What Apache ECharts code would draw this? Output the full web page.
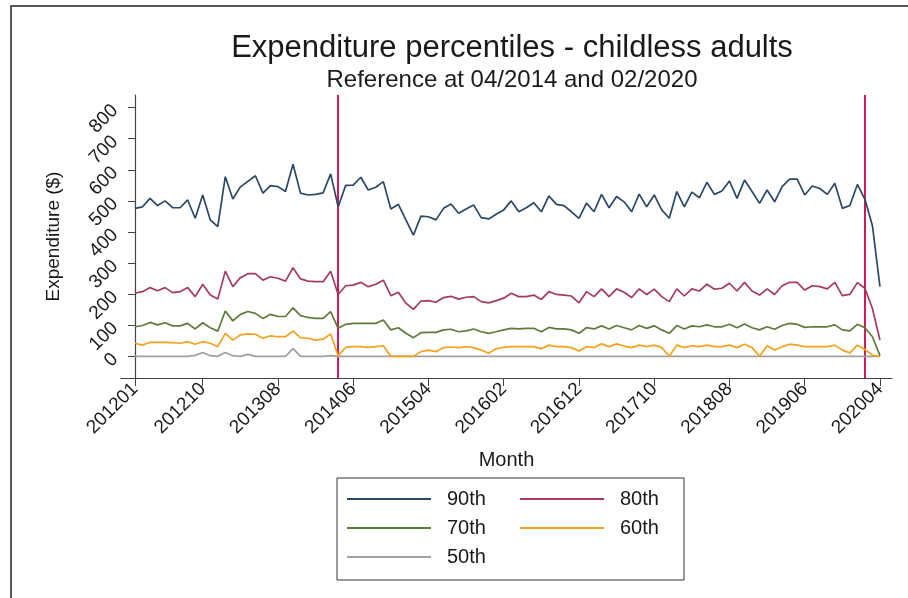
<!DOCTYPE html>
<html>
<head>
<meta charset="utf-8">
<script src="https://cdn.jsdelivr.net/npm/echarts@6/dist/echarts.min.js"></script>
<style>
  html, body { margin: 0; padding: 0; background: #fff; }
  #chart { width: 908px; height: 598px; }
</style>
</head>
<body>
<div id="chart"></div>
<script>
// months 201201 .. 202004
const months = [];
for (let y = 2012; y <= 2020; y++) {
    for (let m = 1; m <= 12; m++) {
        if (y === 2020 && m > 4) break;
        months.push(String(y) + (m < 10 ? '0' + m : m));
    }
}
const tickMonths = ['201201', '201210', '201308', '201406', '201504', '201602',
    '201612', '201710', '201808', '201906', '202004'];
const refMonths = ['201404', '202002'];
const yTicks = [0, 100, 200, 300, 400, 500, 600, 700, 800];

const p90 = [476, 481, 508, 485, 500, 478, 478, 503, 444, 519, 439, 417, 578, 506, 545, 563, 581, 525, 549, 546,
    530, 618, 525, 519, 521, 526, 587, 481, 550, 551, 576, 535, 544, 562, 474, 489, 439, 390, 451, 449,
    439, 476, 490, 460, 474, 487, 446, 442, 457, 471, 500, 465, 478, 494, 465, 516, 489, 485, 465, 444,
    493, 465, 521, 478, 514, 497, 465, 522, 481, 519, 471, 444, 530, 481, 528, 510, 560, 521, 532, 564,
    508, 567, 530, 492, 535, 497, 546, 570, 570, 519, 548, 540, 521, 557, 476, 485, 553, 505, 420, 224];
const p80 = [203, 208, 221, 211, 221, 205, 208, 221, 192, 232, 197, 184, 274, 224, 253, 266, 266, 245, 256, 251,
    242, 285, 249, 242, 240, 240, 274, 199, 227, 229, 238, 224, 232, 245, 195, 206, 171, 151, 178, 179,
    174, 189, 193, 184, 190, 192, 176, 172, 179, 187, 203, 192, 192, 197, 183, 208, 199, 197, 194, 172,
    208, 192, 217, 192, 217, 206, 189, 217, 199, 216, 192, 176, 217, 194, 217, 210, 232, 216, 219, 235,
    210, 238, 210, 197, 217, 199, 227, 238, 238, 213, 227, 224, 217, 238, 195, 199, 237, 219, 154, 52];
const p70 = [95, 99, 109, 101, 108, 98, 98, 106, 88, 108, 92, 81, 146, 114, 135, 144, 138, 122, 135, 128,
    128, 156, 131, 125, 122, 122, 144, 90, 103, 106, 106, 106, 106, 117, 85, 92, 74, 60, 76, 77,
    77, 85, 87, 79, 82, 88, 79, 74, 79, 85, 90, 88, 90, 90, 79, 93, 88, 88, 85, 74,
    92, 88, 98, 88, 99, 92, 85, 99, 90, 98, 85, 74, 99, 88, 98, 95, 101, 95, 95, 103,
    92, 104, 92, 85, 95, 87, 99, 106, 103, 93, 95, 95, 95, 101, 85, 82, 103, 92, 63, 2];
const p60 = [42, 36, 45, 45, 45, 44, 42, 47, 39, 47, 42, 31, 74, 52, 69, 72, 71, 58, 66, 63,
    63, 81, 60, 58, 52, 55, 72, 2, 29, 31, 31, 29, 31, 34, 0, 0, 0, 0, 15, 20,
    15, 28, 30, 28, 31, 28, 20, 10, 24, 29, 31, 31, 31, 31, 24, 36, 31, 31, 28, 17,
    31, 28, 40, 31, 40, 33, 28, 36, 31, 36, 28, 0, 36, 28, 34, 31, 36, 31, 31, 36,
    28, 39, 28, 0, 34, 20, 31, 39, 36, 31, 31, 31, 31, 36, 20, 11, 36, 22, 4, 0];
const p50 = [0, 0, 0, 0, 0, 0, 0, 0, 3, 12, 2, 0, 12, 2, 0, 6, 0, 0, 0, 0,
    0, 25, 0, 0, 0, 0, 2, 0, 0, 0, 0, 0, 0, 0, 0, 0, 0, 0, 0, 0,
    0, 0, 0, 0, 0, 0, 0, 0, 0, 0, 0, 0, 0, 0, 0, 0, 0, 0, 0, 0,
    0, 0, 0, 0, 0, 0, 0, 0, 0, 0, 0, 0, 0, 0, 0, 0, 0, 0, 0, 0,
    0, 0, 0, 0, 0, 0, 0, 0, 0, 0, 0, 0, 0, 0, 0, 0, 0, 0, 0, 0];

const seriesNames = ['90th', '80th', '70th', '60th', '50th'];
const seriesValues = [p90, p80, p70, p60, p50];
const colors = ['#2a4866', '#a43b5b', '#5e7b3b', '#f2a21e', '#a0a0a0'];

const font = 'Liberation Sans, Arial, sans-serif';
const chart = echarts.init(document.getElementById('chart'));

const series = seriesNames.map((name, k) => ({
    name: name,
    type: 'line',
    symbol: 'none',
    z: 10 - k,
    lineStyle: { width: 1.7, color: colors[k] },
    itemStyle: { color: colors[k] },
    data: seriesValues[k].map((v, i) => [i, v])
}));
series[0].markLine = {
    silent: true,
    symbol: 'none',
    label: { show: false },
    lineStyle: { color: '#d2195a', width: 2, type: 'solid' },
    data: refMonths.map(m => ({ xAxis: months.indexOf(m) }))
};

const option = {
    animation: false,
    backgroundColor: '#fff',
    textStyle: { fontFamily: font },
    title: [
        {
            text: 'Expenditure percentiles - childless adults',
            left: 507, top: 28, textAlign: 'center',
            textStyle: { fontFamily: font, fontSize: 31, fontWeight: 'normal', color: '#1a1a1a' }
        },
        {
            text: 'Reference at 04/2014 and 02/2020',
            left: 507, top: 63, textAlign: 'center',
            textStyle: { fontFamily: font, fontSize: 24, fontWeight: 'normal', color: '#1a1a1a' }
        }
    ],
    graphic: [{
        type: 'rect',
        shape: { x: 11, y: 6, width: 940, height: 640 },
        style: { fill: 'none', stroke: '#222', lineWidth: 1.5 },
        silent: true
    }],
    grid: { left: 121, right: 16, top: 95, bottom: 220 },
    legend: {
        data: seriesNames,
        left: 337, top: 478,
        width: 345,
        orient: 'horizontal',
        padding: [11, 0, 13, 10],
        borderColor: '#333', borderWidth: 1,
        icon: 'rect',
        itemWidth: 84, itemHeight: 2, itemGap: 9,
        textStyle: {
            fontFamily: font, fontSize: 20, color: '#1a1a1a',
            width: 64, lineHeight: 14, padding: [0, 0, 0, 11]
        }
    },
    xAxis: {
        type: 'value',
        min: -1.86, max: 100.6,
        name: 'Month',
        nameLocation: 'middle',
        nameGap: 72,
        nameTextStyle: { fontFamily: font, fontSize: 20, color: '#1a1a1a' },
        axisLine: { show: true, onZero: false, lineStyle: { color: '#444', width: 1.2 } },
        axisTick: {
            show: true, length: 8, lineStyle: { color: '#444' },
            customValues: tickMonths.map(m => months.indexOf(m))
        },
        axisLabel: {
            rotate: 45, margin: 8, fontSize: 19, color: '#1a1a1a', fontFamily: font,
            customValues: tickMonths.map(m => months.indexOf(m)),
            formatter: v => months[Math.round(v)]
        },
        splitLine: { show: false }
    },
    yAxis: {
        type: 'value',
        min: -69.8, max: 840.7,
        name: 'Expenditure ($)',
        nameLocation: 'middle',
        nameGap: 58,
        nameRotate: 90,
        nameTextStyle: { fontFamily: font, fontSize: 19, color: '#1a1a1a' },
        axisLine: { show: true, lineStyle: { color: '#444', width: 1.2 } },
        axisTick: { show: true, length: 7, lineStyle: { color: '#444' }, customValues: yTicks },
        axisLabel: {
            rotate: 45, margin: 6, fontSize: 19, color: '#1a1a1a', fontFamily: font,
            customValues: yTicks
        },
        splitLine: { show: false }
    },
    series: series
};
chart.setOption(option);
</script>
</body>
</html>
